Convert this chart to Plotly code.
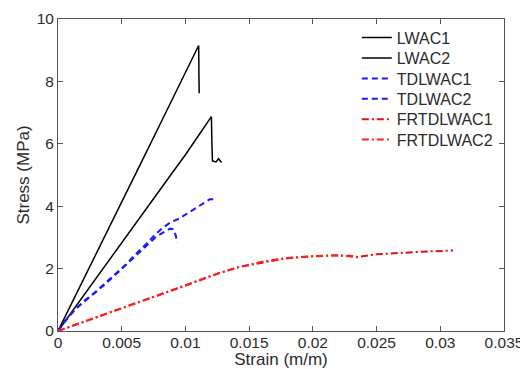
import plotly.graph_objects as go

# ---- data ----
lwac1_strain = [0, 0.0010, 0.0020, 0.0030, 0.0040, 0.0050, 0.0060, 0.0070, 0.0080, 0.0090, 0.0100, 0.01104, 0.01106, 0.01108]
lwac1_stress = [0, 0.82, 1.65, 2.48, 3.31, 4.13, 4.96, 5.79, 6.62, 7.45, 8.28, 9.15, 8.20, 7.62]

lwac2_strain = [0, 0.0010, 0.0020, 0.0030, 0.0040, 0.0050, 0.0060, 0.0070, 0.0080, 0.0090, 0.0100, 0.0110, 0.01204, 0.01208, 0.01212, 0.0124, 0.0126, 0.01283]
lwac2_stress = [0, 0.57, 1.13, 1.70, 2.26, 2.83, 3.39, 3.96, 4.52, 5.09, 5.65, 6.24, 6.87, 6.00, 5.45, 5.42, 5.52, 5.40]

tdlwac1_strain = [0, 0.0005, 0.00137, 0.0020, 0.00294, 0.0037, 0.0045, 0.0053, 0.00608, 0.0069, 0.00765, 0.0082, 0.00882, 0.0095, 0.01026, 0.0110, 0.01157, 0.0119, 0.0121, 0.0122]
tdlwac1_stress = [0, 0.30, 0.70, 0.95, 1.25, 1.52, 1.83, 2.12, 2.46, 2.78, 3.10, 3.30, 3.48, 3.60, 3.80, 3.98, 4.15, 4.22, 4.22, 4.06]

tdlwac2_strain = [0, 0.0005, 0.0013, 0.0020, 0.0029, 0.0037, 0.0045, 0.0053, 0.0061, 0.0069, 0.0077, 0.00843, 0.0088, 0.00908, 0.00925, 0.00935]
tdlwac2_stress = [0, 0.28, 0.68, 0.92, 1.22, 1.50, 1.80, 2.10, 2.42, 2.72, 3.02, 3.20, 3.28, 3.26, 3.05, 2.83]

frtdlwac1_strain = [0, 0.002, 0.004, 0.006, 0.008, 0.010, 0.01118, 0.0125, 0.01432, 0.016, 0.01772, 0.019, 0.02034, 0.0215, 0.02295, 0.0235, 0.025, 0.02688, 0.029, 0.0310]
frtdlwac1_stress = [0, 0.30, 0.58, 0.88, 1.17, 1.47, 1.66, 1.84, 2.06, 2.20, 2.32, 2.37, 2.40, 2.42, 2.41, 2.37, 2.46, 2.51, 2.55, 2.58]

frtdlwac2_strain = [0, 0.002, 0.004, 0.006, 0.008, 0.010, 0.012, 0.014, 0.016, 0.018, 0.020, 0.022, 0.0235]
frtdlwac2_stress = [0, 0.29, 0.57, 0.86, 1.15, 1.45, 1.76, 2.03, 2.22, 2.34, 2.40, 2.43, 2.36]

x_ticks = [0, 0.005, 0.01, 0.015, 0.02, 0.025, 0.03, 0.035]
x_ticklabels = ["0", "0.005", "0.01", "0.015", "0.02", "0.025", "0.03", "0.035"]
y_ticks = [0, 2, 4, 6, 8, 10]

FONT = "Liberation Sans, Arial, sans-serif"
TXT = "#2b2b2b"

fig = go.Figure()
series = [
    ("LWAC1", lwac1_strain, lwac1_stress, "#000000", "solid", 1.5),
    ("LWAC2", lwac2_strain, lwac2_stress, "#000000", "solid", 1.5),
    ("TDLWAC1", tdlwac1_strain, tdlwac1_stress, "#1a1aff", "6px,4px", 2),
    ("TDLWAC2", tdlwac2_strain, tdlwac2_stress, "#1a1aff", "6px,4px", 2),
    ("FRTDLWAC1", frtdlwac1_strain, frtdlwac1_stress, "#e01010", "7px,3px,2px,3px", 2),
    ("FRTDLWAC2", frtdlwac2_strain, frtdlwac2_stress, "#ff2020", "7px,3px,2px,3px", 2),
]
legend_names = ["legend", "legend2", "legend3", "legend4", "legend5", "legend6"]
for (name, xs, ys, col, dash, w), lg in zip(series, legend_names):
    fig.add_trace(go.Scatter(x=xs, y=ys, mode="lines", name=name, legend=lg,
                             line=dict(color=col, dash=dash, width=w)))

axis_common = dict(showline=True, linecolor="#555555", linewidth=1, mirror="ticks",
                   ticks="inside", ticklen=5, tickcolor="#555555", showgrid=False,
                   zeroline=False, automargin=False,
                   tickfont=dict(family=FONT, size=15.5, color=TXT))

fig.update_xaxes(range=[0, 0.035], tickvals=x_ticks, ticktext=x_ticklabels,
                 ticklabelstandoff=-3,
                 title=dict(text="Strain (m/m)", font=dict(family=FONT, size=17, color=TXT), standoff=4),
                 **axis_common)
fig.update_yaxes(range=[0, 10], tickvals=y_ticks,
                 title=dict(text="Stress (MPa)", font=dict(family=FONT, size=17, color=TXT), standoff=2),
                 **axis_common)

plot_top, plot_bottom = 19, 331
legend_layout = {}
for i, lg in enumerate(legend_names):
    py = 37.7 + 20.4 * i
    legend_layout[lg] = dict(x=0.670, y=(plot_bottom - py) / (plot_bottom - plot_top),
                             xanchor="left", yanchor="middle",
                             bgcolor="rgba(0,0,0,0)", borderwidth=0,
                             font=dict(family=FONT, size=16, color=TXT))

# the page body adds an 8px offset, so the figure is sized to fit the window
fig.update_layout(
    width=520, height=361,
    margin=dict(l=50, r=24, t=11, b=38),
    paper_bgcolor="white", plot_bgcolor="white",
    showlegend=True,
    **legend_layout,
)

fig.write_html("out.html")
